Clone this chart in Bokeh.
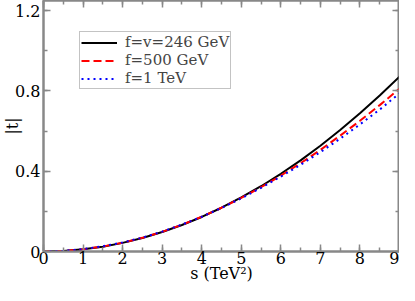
from bokeh.plotting import figure
from bokeh.models import SingleIntervalTicker, LinearAxis, CustomJSTickFormatter, Range1d, Legend
from bokeh.embed import file_html
from bokeh.resources import INLINE

s_vals = [0, 0.5, 1, 1.5, 2, 2.5, 3, 3.5, 4, 4.5, 5, 5.5, 6, 6.5, 7, 7.5, 8, 8.5, 9]
t_246 = [0, 0.003, 0.011, 0.024, 0.043, 0.067, 0.097, 0.132, 0.172, 0.218, 0.269,
         0.325, 0.387, 0.454, 0.527, 0.605, 0.688, 0.777, 0.871]
t_500 = [0, 0.003, 0.011, 0.025, 0.044, 0.068, 0.098, 0.133, 0.173, 0.218, 0.267,
         0.320, 0.378, 0.440, 0.506, 0.577, 0.651, 0.729, 0.811]
t_1000 = [0, 0.003, 0.012, 0.026, 0.045, 0.069, 0.099, 0.134, 0.173, 0.217, 0.265,
          0.317, 0.373, 0.432, 0.495, 0.562, 0.633, 0.707, 0.787]
labels = ["f=v=246 GeV", "f=500 GeV", "f=1 TeV"]

FONT = "DejaVu Serif"
GRAY = "#888888"

p = figure(width=399, height=285, output_backend="svg", toolbar_location=None,
           x_range=Range1d(0, 9), y_range=Range1d(0, 1.25),
           x_axis_label="s (TeV²)", y_axis_label="|t|",
           min_border_left=0, min_border_right=0, min_border_top=0, min_border_bottom=0)
p.grid.visible = False
p.outline_line_color = GRAY
p.outline_line_width = 2
p.background_fill_color = "white"
p.border_fill_color = "white"

xt = SingleIntervalTicker(interval=1, num_minor_ticks=2)
yt = SingleIntervalTicker(interval=0.4, num_minor_ticks=2)
fmt = CustomJSTickFormatter(code="return Number(tick.toFixed(2)).toString();")

def style(ax, show_labels=True):
    ax.axis_line_color = GRAY
    ax.axis_line_width = 2
    ax.major_tick_line_color = GRAY
    ax.minor_tick_line_color = GRAY
    ax.major_tick_line_width = 1.5
    ax.minor_tick_line_width = 1.5
    ax.major_tick_in = 7
    ax.major_tick_out = 0
    ax.minor_tick_in = 4
    ax.minor_tick_out = 0
    ax.major_label_text_font = FONT
    ax.major_label_text_font_size = "16px"
    ax.major_label_text_color = "black"
    ax.axis_label_text_font = FONT
    ax.axis_label_text_font_size = "16px"
    ax.axis_label_text_font_style = "normal"
    ax.axis_label_text_color = "black"
    if not show_labels:
        ax.major_label_text_font_size = "0px"
        ax.major_label_text_alpha = 0

p.xaxis.ticker = xt
p.yaxis.ticker = yt
p.yaxis.formatter = fmt
style(p.xaxis[0])
style(p.yaxis[0])
p.xaxis.major_label_standoff = 0
p.xaxis.axis_label_standoff = -3
p.yaxis.major_label_standoff = 3
p.yaxis.axis_label_standoff = -10

top = LinearAxis(ticker=SingleIntervalTicker(interval=1, num_minor_ticks=2))
right = LinearAxis(ticker=SingleIntervalTicker(interval=0.4, num_minor_ticks=2))
style(top, False)
style(right, False)
top.major_label_standoff = 0
right.major_label_standoff = 0
p.add_layout(top, "above")
p.add_layout(right, "right")

r1 = p.line(s_vals, t_246, line_color="black", line_width=2)
r2 = p.line(s_vals, t_500, line_color="red", line_width=2, line_dash="8 4")
r3 = p.line(s_vals, t_1000, line_color="blue", line_width=2, line_dash="2 4")

leg = Legend(items=[(labels[0], [r1]), (labels[1], [r2]), (labels[2], [r3])],
             location=(36, 162))
leg.label_text_font = FONT
leg.label_text_font_size = "15px"
leg.label_height = 17
leg.glyph_height = 17
leg.glyph_width = 36
leg.spacing = -2
leg.padding = 1
leg.margin = 0
leg.label_standoff = 8
leg.border_line_color = GRAY
leg.border_line_width = 1.5
leg.background_fill_alpha = 1
p.add_layout(leg, "center")

open("out.html", "w").write(file_html(p, INLINE))
